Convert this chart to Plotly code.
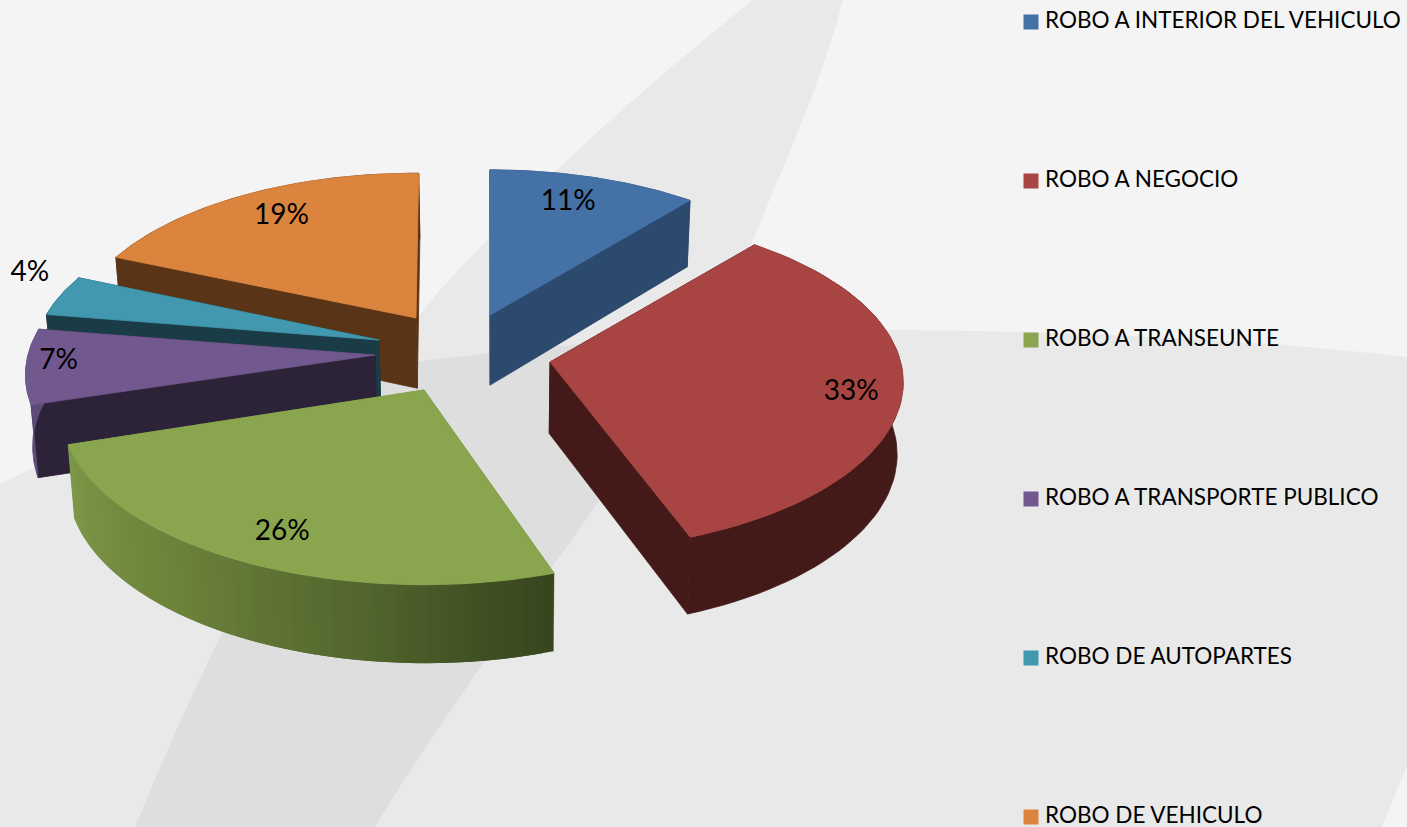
import math
import plotly.graph_objects as go

CATEGORIES = ["ROBO A INTERIOR DEL VEHICULO", "ROBO A NEGOCIO", "ROBO A TRANSEUNTE",
              "ROBO A TRANSPORTE PUBLICO", "ROBO DE AUTOPARTES", "ROBO DE VEHICULO"]
VALUES = [11, 33, 26, 7, 4, 19]
TOP_COLORS = ["#4471a6", "#a84442", "#89a54e", "#71588f", "#4198af", "#db843d"]
SIDE_COLORS = ["#2c4a6e", "#431a18", "#7d9848", "#2d2338", "#193c46", "#5a3416"]
WALL_COLORS = ["#2c4a6e", "#431a18", None, "#5d4a78", "#193c46", "#5a3416"]
GREEN_STOPS = [(0.0, (125, 152, 72)), (0.4, (106, 128, 57)), (0.7, (82, 102, 46)),
               (0.9, (63, 79, 34)), (1.0, (56, 70, 30))]

# layout of the exploded pie (pixel frame of the axes)
APEX_X = [490, 550, 424, 375, 379, 416]
APEX_Y = [315, 362, 390, 355, 340, 318]
RADIUS = [1.005, 0.995, 1.0, 0.99, 0.99, 1.0]
START_TRIM_DEG = [0, 0, 3, 1, 2, 1.5]
END_TRIM_DEG = [0, 0.8, 0, 2, 2, 0.5]
LABEL_R = [0.8, 0.87, 0.85, 0.93, 1.07, 0.8]
LABEL_DX = [-7, -5, 10, 8, -9, 4]
LABEL_DY = [0, 7, 0, -3, -19, -1]
LEGEND_X = 1031
LEGEND_TEXT_X = 1045
LEGEND_Y = [22, 181, 340, 499, 658, 817]
DRAW_ORDER = [0, 5, 4, 3, 2, 1]
A, B, K, DEPTH, SHRINK, VX, HORIZON = 348, 165, 0.12, 71, 0.985, 500, 345

total = sum(VALUES)
starts, acc = [], 0.0
for v in VALUES:
    starts.append(acc / total * 2 * math.pi)
    acc += v
ends = starts[1:] + [2 * math.pi]
starts = [s + math.radians(d) for s, d in zip(starts, START_TRIM_DEG)]
ends = [e + math.radians(d) for e, d in zip(ends, END_TRIM_DEG)]


def project(i, r, t, bottom=False):
    r = r * RADIUS[i]
    oy = (HORIZON - APEX_Y[i]) / B
    w = 1 + K * (r * math.cos(t) + oy)
    x = APEX_X[i] + A * r * math.sin(t) / w
    y = APEX_Y[i] - B * r * math.cos(t) / w
    if bottom:
        x = VX + (x - VX) * SHRINK
        y += DEPTH / w ** 0.6
    return x, y


def lerp_color(t):
    for (a, ca), (b, cb) in zip(GREEN_STOPS, GREEN_STOPS[1:]):
        if t <= b:
            f = (t - a) / (b - a)
            c = [round(p + (q - p) * f) for p, q in zip(ca, cb)]
            return f"rgb({c[0]},{c[1]},{c[2]})"
    return "rgb(56,70,30)"


def poly(fig, pts, color, edge=0.8):
    fig.add_trace(go.Scatter(x=[p[0] for p in pts] + [pts[0][0]], y=[p[1] for p in pts] + [pts[0][1]],
                             mode="lines", fill="toself", fillcolor=color,
                             line=dict(color=color, width=edge), showlegend=False, hoverinfo="skip"))


fig = go.Figure()
for i in DRAW_ORDER:
    s, e = starts[i], ends[i]
    arc = [s + (e - s) * n / 60 for n in range(61)]
    for t in (s, e):
        poly(fig, [project(i, 0, t), project(i, 1, t), project(i, 1, t, True), project(i, 0, t, True)], SIDE_COLORS[i])
    if WALL_COLORS[i]:
        poly(fig, [project(i, 1, t) for t in arc] + [project(i, 1, t, True) for t in reversed(arc)], WALL_COLORS[i])
    else:
        for n in range(60):
            a, b = arc[n], arc[min(n + 2, 60)]
            poly(fig, [project(i, 1, a), project(i, 1, b), project(i, 1, b, True), project(i, 1, a, True)],
                 lerp_color(1 - n / 59), edge=0)
    poly(fig, [project(i, 0, s)] + [project(i, 1, t) for t in arc], TOP_COLORS[i])

# percentage labels
for i, v in enumerate(VALUES):
    x, y = project(i, LABEL_R[i], (starts[i] + ends[i]) / 2)
    fig.add_trace(go.Scatter(x=[x + LABEL_DX[i]], y=[y + LABEL_DY[i]], mode="text",
                             text=[f"{round(v / total * 100)}%"],
                             textfont=dict(family="Lato", size=28, color="#000000"),
                             textposition="middle center", showlegend=False, hoverinfo="skip"))

# legend entries: swatch and its label
for name, c, ly in zip(CATEGORIES, TOP_COLORS, LEGEND_Y):
    fig.add_trace(go.Scatter(x=[LEGEND_X], y=[ly], mode="markers", name=name,
                             marker=dict(symbol="square", size=15, color=c),
                             showlegend=False, hoverinfo="name"))
    fig.add_trace(go.Scatter(x=[LEGEND_TEXT_X], y=[ly], mode="text", text=[name],
                             textposition="middle right",
                             textfont=dict(family="Lato", size=22.5, color="#000000"),
                             showlegend=False, hoverinfo="skip", cliponaxis=False))

BAND = "M 753 0 C 640 90 540 180 440 290 C 320 430 220 620 135 827 L 375 827 C 500 620 680 420 755 235 C 795 140 825 70 843 0 Z"
SWEEP = "M 0 484 C 130 420 280 375 430 360 C 640 335 760 330 900 330 C 1100 332 1260 340 1407 357 L 1407 767 Q 1392 800 1382 827 L 0 827 Z"

fig.update_layout(
    width=1407, height=827, margin=dict(l=0, r=0, t=0, b=0), autosize=False,
    paper_bgcolor="#f4f4f4", plot_bgcolor="rgba(0,0,0,0)",
    xaxis=dict(range=[0, 1407], visible=False, fixedrange=True),
    yaxis=dict(range=[827, 0], visible=False, fixedrange=True),
    font=dict(family="Lato", color="#000000"),
    showlegend=False,
    shapes=[dict(type="path", path=p, xref="x", yref="y", fillcolor="rgba(0,0,0,0.045)",
                 line=dict(width=0), layer="below") for p in (BAND, SWEEP)],
)
fig.write_html("out.html", config={"displayModeBar": False},
               post_script="document.body.style.margin='0';document.documentElement.style.overflow='hidden';")
